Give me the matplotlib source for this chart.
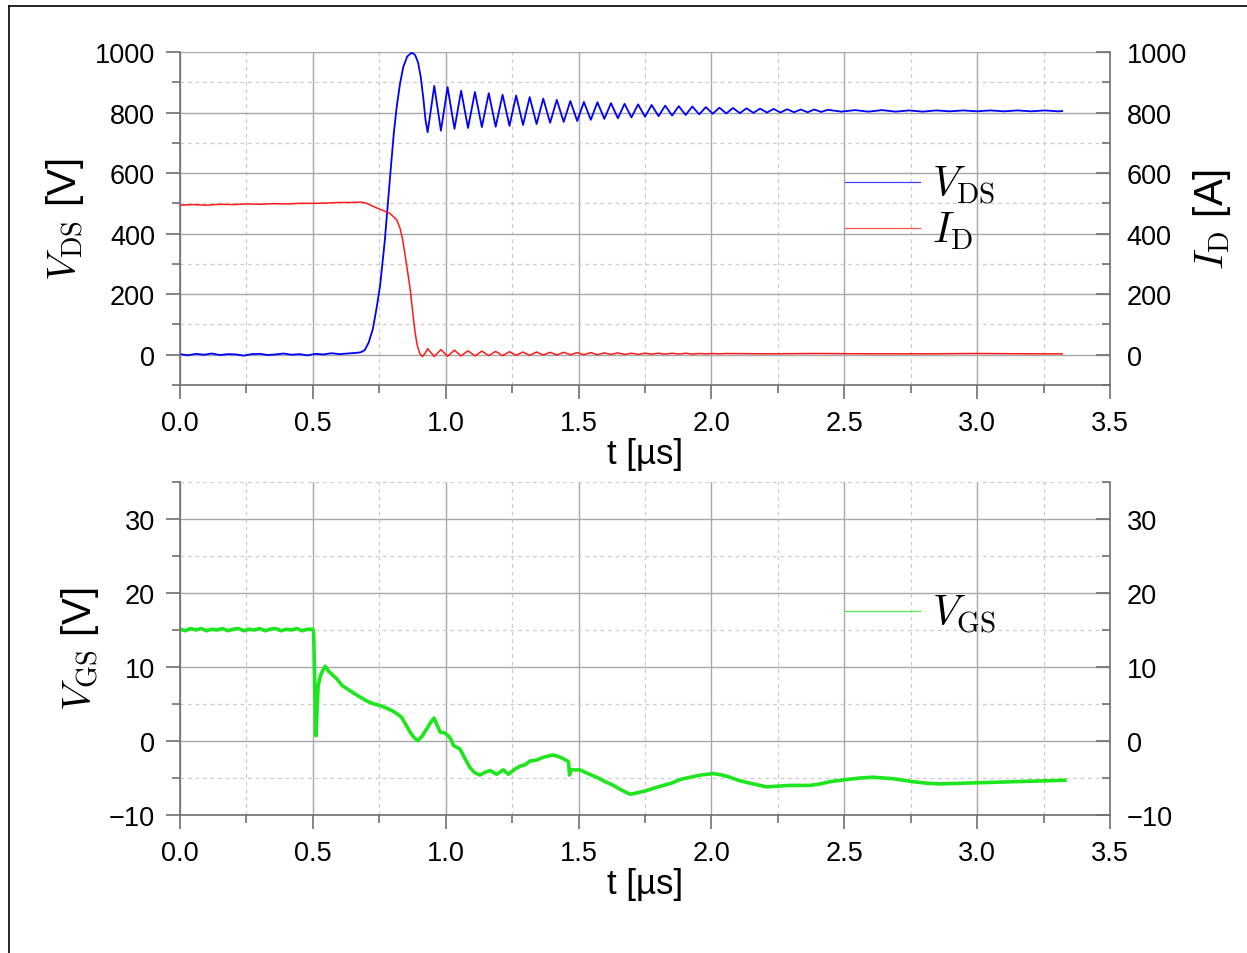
import matplotlib
matplotlib.use("Agg")
import matplotlib.pyplot as plt
from matplotlib.ticker import MultipleLocator, FormatStrFormatter
from matplotlib.lines import Line2D

plt.rcParams['font.family'] = ['Liberation Sans', 'DejaVu Sans']
plt.rcParams['mathtext.fontset'] = 'cm'

# ---------------- data ----------------
vds_t = [0.000, 0.030, 0.060, 0.090, 0.120, 0.150, 0.180, 0.210, 0.240, 0.270,
         0.300, 0.330, 0.360, 0.390, 0.420, 0.450, 0.480, 0.510, 0.540, 0.570,
         0.600, 0.630, 0.660, 0.680, 0.695, 0.710, 0.726, 0.740, 0.753, 0.770,
         0.790, 0.805, 0.816, 0.828, 0.840, 0.855, 0.872, 0.885, 0.896, 0.906,
         0.916, 0.924, 0.932,
         0.957, 0.982, 1.007, 1.033, 1.058, 1.084, 1.110, 1.136, 1.162, 1.188,
         1.214, 1.240, 1.265, 1.291, 1.316, 1.342, 1.367, 1.393, 1.418, 1.444,
         1.469, 1.495, 1.520, 1.546, 1.571, 1.597, 1.622, 1.648, 1.673, 1.699,
         1.724, 1.750, 1.775, 1.801, 1.826, 1.852, 1.877, 1.903, 1.928, 1.954,
         1.979, 2.005, 2.030, 2.056, 2.081, 2.107, 2.132, 2.158, 2.183, 2.209,
         2.234, 2.260, 2.285, 2.311, 2.336, 2.362, 2.387, 2.413, 2.438, 2.489,
         2.540, 2.591, 2.642, 2.693, 2.744, 2.795, 2.846, 2.897, 2.948, 2.999,
         3.050, 3.101, 3.152, 3.203, 3.254, 3.305, 3.320]
vds_v = [2, -2, 3, 0, 4, -1, 2, 1, -3, 2,
         3, -1, 1, 4, 0, 2, -2, 3, 1, 5,
         2, 4, 6, 8, 15, 40, 86, 155, 228, 370,
         581, 735, 822, 895, 950, 985, 998, 990, 965, 918,
         845, 775, 735,
         888, 740, 884, 746, 872, 749, 868, 752, 864, 753,
         859, 756, 856, 759, 851, 762, 846, 766, 842, 769,
         838, 772, 835, 776, 834, 779, 831, 781, 829, 784,
         827, 786, 825, 788, 823, 790, 821, 792, 820, 794,
         818, 796, 816, 797, 815, 798, 814, 799, 813, 800,
         812, 800, 811, 801, 810, 801, 810, 802, 809, 803,
         808, 803, 808, 803, 807, 803, 807, 804, 807, 804,
         807, 804, 807, 804, 807, 804, 805]

id_t = [0.000, 0.050, 0.100, 0.150, 0.200, 0.250, 0.300, 0.350, 0.400, 0.450,
        0.500, 0.550, 0.600, 0.650, 0.680, 0.700, 0.727, 0.760, 0.790, 0.816,
        0.828, 0.838, 0.847, 0.857, 0.866, 0.875, 0.884, 0.893, 0.903, 0.912,
        0.922, 0.932,
        0.957, 0.982, 1.007, 1.033, 1.058, 1.084, 1.110, 1.136, 1.162, 1.188,
        1.214, 1.240, 1.265, 1.291, 1.316, 1.342, 1.367, 1.393, 1.418, 1.444,
        1.469, 1.495, 1.520, 1.546, 1.571, 1.597, 1.622, 1.648, 1.673, 1.699,
        1.724, 1.750, 1.775, 1.801, 1.826, 1.852, 1.877, 1.903, 1.928, 1.954,
        1.979, 2.005, 2.030, 2.056, 2.200, 2.400, 2.600, 2.800,
        3.000, 3.200, 3.320]
id_v = [494, 496, 494, 497, 496, 498, 497, 499, 498, 500,
        500, 501, 503, 503, 504, 501, 490, 478, 467, 445,
        418, 380, 330, 272, 218, 148, 78, 30, 3, -6,
        4, 20,
        -6, 17, -5, 15, -4, 13, -4, 12, -3, 11,
        -3, 10, -2, 9, -2, 9, -1, 8, -1, 8,
        0, 7, 0, 7, 0, 6, 1, 6, 1, 5,
        1, 5, 2, 5, 2, 5, 2, 5, 2, 4,
        3, 4, 3, 4, 3, 4, 3, 3,
        4, 3, 3]

vgs_t = [0.000, 0.020, 0.040, 0.060, 0.080, 0.100, 0.120, 0.140, 0.160, 0.180,
         0.200, 0.220, 0.240, 0.260, 0.280, 0.300, 0.320, 0.340, 0.360, 0.380,
         0.400, 0.420, 0.440, 0.460, 0.480, 0.500, 0.503, 0.507, 0.512, 0.516,
         0.520, 0.530, 0.546, 0.560, 0.575, 0.590, 0.610, 0.640, 0.670, 0.703,
         0.730, 0.753, 0.780, 0.803, 0.820, 0.834, 0.850, 0.866, 0.880, 0.894,
         0.910, 0.928, 0.945, 0.956, 0.967, 0.979, 0.995, 1.010, 1.020, 1.029,
         1.054, 1.070, 1.091, 1.110, 1.129, 1.150, 1.167, 1.192, 1.217, 1.236,
         1.260, 1.280, 1.300, 1.317, 1.340, 1.367, 1.390, 1.405, 1.425, 1.443,
         1.462, 1.466, 1.470, 1.505, 1.535, 1.568, 1.600, 1.631, 1.660, 1.694,
         1.720, 1.756, 1.790, 1.819, 1.850, 1.882, 1.920, 1.960, 2.007, 2.040,
         2.070, 2.100, 2.133, 2.170, 2.208, 2.250, 2.296, 2.340, 2.371, 2.410,
         2.446, 2.509, 2.560, 2.610, 2.684, 2.760, 2.810, 2.860, 2.948, 3.048,
         3.136, 3.237, 3.330]
vgs_v = [15.1, 14.9, 15.2, 15.0, 15.2, 14.9, 15.1, 15.0, 15.2, 14.9,
         15.1, 15.2, 14.9, 15.1, 15.0, 15.2, 14.9, 15.1, 15.2, 14.9,
         15.1, 15.0, 15.2, 14.9, 15.1, 15.1, 14.5, 8.0, 0.7, 4.5,
         7.5, 9.0, 10.1, 9.4, 8.9, 8.4, 7.5, 6.8, 6.1, 5.4,
         5.0, 4.8, 4.4, 4.0, 3.6, 3.2, 2.2, 1.2, 0.5, 0.05,
         0.6, 1.6, 2.6, 3.1, 2.2, 1.2, 1.1, 0.7, 0.2, -0.6,
         -1.1, -2.2, -3.6, -4.3, -4.6, -4.2, -4.0, -4.5, -3.9, -4.5,
         -3.8, -3.4, -3.2, -2.7, -2.6, -2.2, -2.0, -1.9, -2.1, -2.4,
         -2.8, -4.6, -3.9, -3.9, -4.4, -4.9, -5.5, -6.0, -6.6, -7.2,
         -7.0, -6.7, -6.3, -6.0, -5.7, -5.2, -4.9, -4.6, -4.4, -4.6,
         -4.9, -5.3, -5.6, -5.9, -6.2, -6.1, -6.0, -6.0, -6.0, -5.8,
         -5.5, -5.2, -5.0, -4.9, -5.1, -5.5, -5.7, -5.8, -5.7, -5.6,
         -5.5, -5.4, -5.3]

x_lim = (0.0, 3.5)
top_lim = (-100, 1000)
bot_lim = (-10, 35)

# ---------------- figure ----------------
W, H = 1247, 954
fig = plt.figure(figsize=(W / 100, H / 100), dpi=100)

ax1 = fig.add_axes([180 / W, 1 - 386 / H, 930 / W, 333 / H])
ax2 = fig.add_axes([180 / W, 1 - 816 / H, 930 / W, 333 / H])

SP = '#707070'
TICKFS = 19.5


def style(ax, ylim, ymaj, ymin):
    ax.set_xlim(*x_lim)
    ax.set_ylim(*ylim)
    ax.xaxis.set_major_locator(MultipleLocator(0.5))
    ax.xaxis.set_minor_locator(MultipleLocator(0.25))
    ax.xaxis.set_major_formatter(FormatStrFormatter('%.1f'))
    ax.yaxis.set_major_locator(MultipleLocator(ymaj))
    ax.yaxis.set_minor_locator(MultipleLocator(ymin))
    ax.set_axisbelow(True)
    ax.grid(which='major', color='#a8a8a8', lw=1.0, ls='-')
    ax.grid(which='minor', color='#cccccc', lw=0.9, ls=(0, (3, 3)))
    for s in ('top', 'right'):
        ax.spines[s].set_visible(False)
    for s in ('left', 'bottom'):
        ax.spines[s].set_color(SP)
        ax.spines[s].set_linewidth(1.2)
    ax.tick_params(which='both', direction='out', color=SP, width=1.2,
                   labelsize=TICKFS, pad=8)
    ax.tick_params(which='major', length=10)
    ax.tick_params(which='minor', length=5.5)
    ax.set_xlabel('t [µs]', fontsize=25, labelpad=1)

    axr = ax.twinx()
    axr.set_ylim(*ylim)
    axr.yaxis.set_major_locator(MultipleLocator(ymaj))
    axr.yaxis.set_minor_locator(MultipleLocator(ymin))
    for s in ('top', 'left', 'bottom'):
        axr.spines[s].set_visible(False)
    axr.spines['right'].set_color(SP)
    axr.spines['right'].set_linewidth(1.2)
    axr.tick_params(which='both', direction='in', color=SP, width=1.2,
                    labelsize=TICKFS, pad=12)
    axr.tick_params(which='major', length=10)
    axr.tick_params(which='minor', length=5.5)
    return axr


ax1r = style(ax1, top_lim, 200, 100)
ax2r = style(ax2, bot_lim, 10, 5)

l_vds, = ax1.plot(vds_t, vds_v, color='#0000ff', lw=1.3)
l_id, = ax1r.plot(id_t, id_v, color='#ff1a1a', lw=1.1)
l_vgs, = ax2.plot(vgs_t, vgs_v, color='#1ee61e', lw=2.6)

ax1.set_ylabel(r'$V_{\rm DS}$ [V]', fontsize=29, labelpad=6)
ax1r.set_ylabel(r'$I_{\rm D}$ [A]', fontsize=29, rotation=90, labelpad=3)
ax2.set_ylabel(r'$V_{\rm GS}$ [V]', fontsize=29, labelpad=6)

leg1 = ax1r.legend([l_vds, l_id], [r'$V_{\rm DS}$', r'$I_{\rm D}$'],
                   loc='upper left', bbox_to_anchor=(845 / W, 1 - 165 / H),
                   bbox_transform=fig.transFigure, frameon=False, fontsize=30,
                   handlelength=1.8, handletextpad=0.3, labelspacing=0.1,
                   borderpad=0, borderaxespad=0)
leg2 = ax2r.legend([l_vgs], [r'$V_{\rm GS}$'],
                   loc='upper left', bbox_to_anchor=(845 / W, 1 - 594 / H),
                   bbox_transform=fig.transFigure, frameon=False, fontsize=30,
                   handlelength=1.8, handletextpad=0.3,
                   borderpad=0, borderaxespad=0)
for lg in (leg1, leg2):
    for h in lg.get_lines():
        h.set_linewidth(0.9)
        h.set_alpha(0.75)

# figure frame (left and top edges)
fig.add_artist(Line2D([9 / W, 9 / W], [0, 1 - 7 / H], color='black', lw=1.2,
                      transform=fig.transFigure))
fig.add_artist(Line2D([9 / W, 1], [1 - 7 / H, 1 - 7 / H], color='black', lw=1.2,
                      transform=fig.transFigure))

fig.savefig('out.png', dpi=100)
